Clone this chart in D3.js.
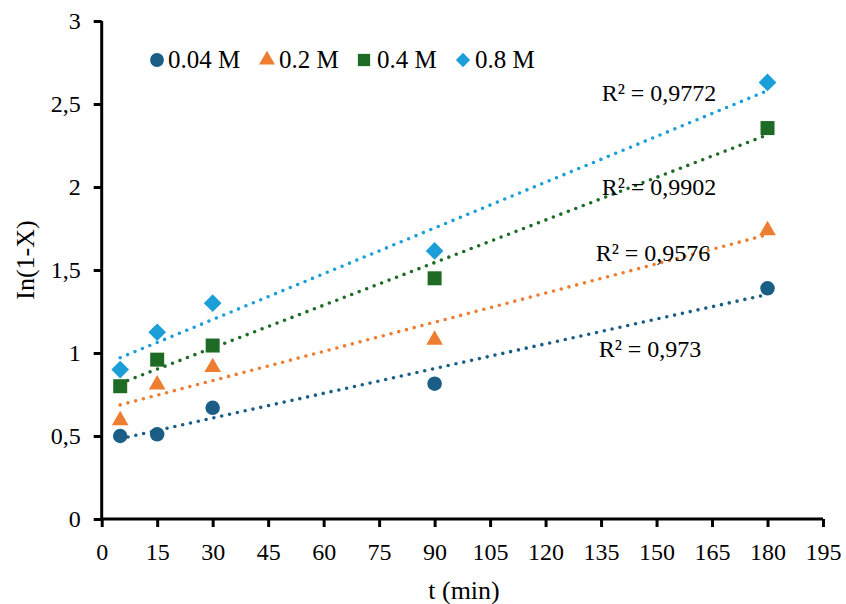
<!DOCTYPE html>
<html><head><meta charset="utf-8">
<script src="https://cdn.jsdelivr.net/npm/d3@7"></script>
<style>
body{margin:0;background:#fff;}
svg text{font-family:"Liberation Serif","Times New Roman",serif;fill:#000;}
</style></head>
<body><svg id="c" width="846" height="604"></svg>
<script>
const times = [5, 15, 30, 90, 180];
const seriesNames = ["0.04 M", "0.2 M", "0.4 M", "0.8 M"];
const s004 = [0.50, 0.51, 0.67, 0.815, 1.39];
const s02  = [0.60, 0.815, 0.92, 1.085, 1.745];
const s04  = [0.80, 0.96, 1.045, 1.45, 2.355];
const s08  = [0.90, 1.125, 1.30, 1.615, 2.63];
const r2Labels = ["R² = 0,973", "R² = 0,9576", "R² = 0,9902", "R² = 0,9772"];
const xTicks = [0,15,30,45,60,75,90,105,120,135,150,165,180,195];
const yTicks = [0,0.5,1,1.5,2,2.5,3];
const colors = ["#1a5e87", "#ed7d31", "#1e6b25", "#1c9fd9"];
const shapes = ["circle", "triangle", "square", "diamond"];
const seriesVals = [s004, s02, s04, s08];
const r2Pos = [[650,357],[653,261],[659,195],[659,101]];

const svg = d3.select("#c");
const x = d3.scaleLinear().domain([0,195]).range([101.7, 823]);
const y = d3.scaleLinear().domain([0,3]).range([519, 21]);

// axes
const xa = svg.append("g").attr("transform","translate(0,519)")
  .call(d3.axisBottom(x).tickValues(xTicks).tickSize(8).tickPadding(10).tickFormat(d3.format("d")));
const ya = svg.append("g").attr("transform","translate(101.7,0)")
  .call(d3.axisLeft(y).tickValues(yTicks).tickSize(8).tickPadding(13).tickFormat(d => String(d).replace(".", ",")));
[xa, ya].forEach(a => {
  a.select(".domain").attr("stroke","#000").attr("stroke-width",3);
  a.selectAll(".tick line").attr("stroke","#000").attr("stroke-width",3);
  a.selectAll(".tick text").style("font-size","24px").attr("fill","#000");
});
xa.selectAll(".tick text").attr("y",41).attr("dy",null);
xa.select(".domain").attr("d","M101.7,0H823");
ya.select(".domain").attr("d","M0,21V519");

svg.append("text").attr("x",464).attr("y",599).attr("text-anchor","middle").style("font-size","26px").text("t (min)");
svg.append("text").attr("transform","translate(34,260) rotate(-90)").attr("text-anchor","middle").style("font-size","26px").text("In(1-X)");

function sym(sh){
  const m = {circle:[d3.symbolCircle,165], triangle:[d3.symbolTriangle,120], square:[d3.symbolSquare,196], diamond:[d3.symbolDiamond2,200]};
  return d3.symbol().type(m[sh][0]).size(m[sh][1]);
}

// trend lines
seriesVals.forEach((vals, i) => {
  const mx = d3.mean(times), my = d3.mean(vals);
  const b = d3.sum(times.map((t,k)=>(t-mx)*(vals[k]-my))) / d3.sum(times.map(t=>(t-mx)*(t-mx)));
  const a = my - b*mx;
  const t0 = d3.min(times), t1 = d3.max(times);
  svg.append("line").attr("x1",x(t0)).attr("y1",y(a+b*t0)).attr("x2",x(t1)).attr("y2",y(a+b*t1))
    .attr("stroke",colors[i]).attr("stroke-width",3.6).attr("stroke-linecap","round").attr("stroke-dasharray","0 8");
});

// markers
seriesVals.forEach((vals, i) => {
  svg.append("g").selectAll("path").data(vals).join("path")
    .attr("d", sym(shapes[i]))
    .attr("transform",(d,k)=>`translate(${x(times[k])},${y(d) + (shapes[i]==="triangle"?1:0)})`)
    .attr("fill",colors[i]);
});

// R2 labels
r2Labels.forEach((t,i)=>{
  svg.append("text").attr("x",r2Pos[i][0]).attr("y",r2Pos[i][1]).attr("text-anchor","middle").style("font-size","24px").text(t);
});

// legend
const legX = [157, 267, 364, 463];
const legTX = [168, 279, 377, 475];
seriesNames.forEach((nm,i)=>{
  const s = {circle:[d3.symbolCircle,150], triangle:[d3.symbolTriangle,110], square:[d3.symbolSquare,150], diamond:[d3.symbolDiamond2,130]}[shapes[i]];
  svg.append("path").attr("d", d3.symbol().type(s[0]).size(s[1])()).attr("transform",`translate(${legX[i]},60)`).attr("fill",colors[i]);
  svg.append("text").attr("x",legTX[i]).attr("y",68).style("font-size","25px").text(nm);
});
</script></body></html>
